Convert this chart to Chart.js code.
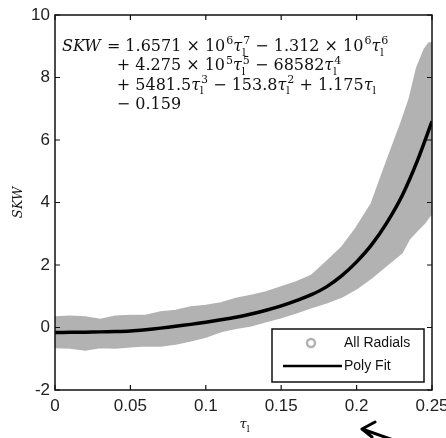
<!DOCTYPE html>
<html>
<head>
<meta charset="utf-8">
<script src="https://cdn.jsdelivr.net/npm/chart.js@4.4.0/dist/chart.umd.min.js"></script>
<style>
  html, body { margin: 0; padding: 0; background: #fff; }
  #wrap { width: 446px; height: 438px; }
</style>
</head>
<body>
<div id="wrap"><canvas id="chart" width="446" height="438"></canvas></div>
<script>
// scatter band of all radials (upper / lower edge of the grey cloud)
const bandR = [0, 0.01, 0.02, 0.03, 0.04, 0.05, 0.06, 0.07, 0.08, 0.09, 0.10, 0.11, 0.12, 0.13, 0.14, 0.15, 0.16, 0.17, 0.18, 0.19, 0.20, 0.21, 0.22, 0.23, 0.235, 0.24, 0.245, 0.248, 0.25, 0.2527];
const bandUpper = [0.33, 0.35, 0.33, 0.25, 0.35, 0.38, 0.38, 0.49, 0.54, 0.65, 0.70, 0.78, 0.92, 1.02, 1.13, 1.29, 1.45, 1.66, 2.1, 2.55, 3.2, 3.97, 5.3, 6.6, 7.3, 8.3, 8.9, 9.1, 9.1, 9.0];
const bandLower = [-0.63, -0.65, -0.71, -0.63, -0.65, -0.61, -0.58, -0.58, -0.52, -0.42, -0.3, -0.12, -0.02, 0.06, 0.2, 0.33, 0.48, 0.65, 0.8, 0.98, 1.25, 1.6, 2.0, 2.4, 2.85, 3.1, 3.35, 3.55, 3.65, 3.7];

// polynomial fit line
const fitR = [0, 0.01, 0.02, 0.03, 0.04, 0.05, 0.06, 0.07, 0.08, 0.09, 0.10, 0.11, 0.12, 0.13, 0.14, 0.15, 0.16, 0.17, 0.18, 0.19, 0.20, 0.21, 0.22, 0.23, 0.24, 0.25];
const fitValues = [-0.16, -0.155, -0.15, -0.14, -0.13, -0.11, -0.07, -0.02, 0.04, 0.10, 0.17, 0.25, 0.33, 0.43, 0.55, 0.69, 0.86, 1.05, 1.3, 1.65, 2.1, 2.65, 3.35, 4.2, 5.3, 6.6];

const xTicks = [0, 0.05, 0.1, 0.15, 0.2, 0.25];
const yTicks = [-2, 0, 2, 4, 6, 8, 10];
const legendLabels = ['All Radials', 'Poly Fit'];

// equation text, one array per line: [text, italic, sub, sup]
const equationLines = [
  [['SKW', true], [' = 1.6571 \u00d7 10', false, '', '6'], ['\u03c4', true, 'l', '7'], [' \u2212 1.312 \u00d7 10', false, '', '6'], ['\u03c4', true, 'l', '6']],
  [['+ 4.275 \u00d7 10', false, '', '5'], ['\u03c4', true, 'l', '5'], [' \u2212 68582', false], ['\u03c4', true, 'l', '4']],
  [['+ 5481.5', false], ['\u03c4', true, 'l', '3'], [' \u2212 153.8', false], ['\u03c4', true, 'l', '2'], [' + 1.175', false], ['\u03c4', true, 'l', '']],
  [['\u2212 0.159', false]]
];

const grey = '#b2b2b2';
const serif = '"DejaVu Serif", "Liberation Serif", serif';
const sans = '"Liberation Sans", Arial, sans-serif';

const drawSegments = (ctx, x, y, segs, size) => {
  for (let s of segs) {
    let [text, italic, sub, sup] = s;
    ctx.font = (italic ? 'italic ' : '') + size + 'px ' + serif;
    ctx.fillText(text, x, y);
    x += ctx.measureText(text).width;
    let w = 0;
    ctx.font = Math.round(size * 0.7) + 'px ' + serif;
    if (sub) {
      ctx.fillText(sub, x, y + size * 0.3);
      w = Math.max(w, ctx.measureText(sub).width);
    }
    if (sup) {
      ctx.fillText(sup, x + 1, y - size * 0.42);
      w = Math.max(w, ctx.measureText(sup).width + 1);
    }
    x += w;
  }
  return x;
};

const overlay = {
  id: 'overlay',
  afterDatasetsDraw(chart) {
    const ctx = chart.ctx;
    const a = chart.chartArea;
    const xs = chart.scales.x, ys = chart.scales.y;
    ctx.save();
    ctx.strokeStyle = '#111';
    ctx.lineWidth = 1.5;
    ctx.strokeRect(a.left, a.top, a.right - a.left, a.bottom - a.top);
    ctx.lineWidth = 1.2;
    ctx.beginPath();
    for (let v of xTicks) {
      let px = xs.getPixelForValue(v);
      ctx.moveTo(px, a.bottom); ctx.lineTo(px, a.bottom - 5);
      ctx.moveTo(px, a.top); ctx.lineTo(px, a.top + 5);
    }
    for (let v of yTicks) {
      let py = ys.getPixelForValue(v);
      ctx.moveTo(a.left, py); ctx.lineTo(a.left + 5, py);
      ctx.moveTo(a.right, py); ctx.lineTo(a.right - 5, py);
    }
    ctx.stroke();
    ctx.restore();
  },
  afterDraw(chart) {
    const ctx = chart.ctx;
    const a = chart.chartArea;
    const ds = chart.data.datasets;
    ctx.save();

    // legend box inside bottom right corner
    let lw = 152, lh = 53;
    let lx = a.right - 8 - lw, ly = a.bottom - 8 - lh;
    ctx.fillStyle = '#fff';
    ctx.fillRect(lx, ly, lw, lh);
    ctx.strokeStyle = '#111';
    ctx.lineWidth = 1.5;
    ctx.strokeRect(lx, ly, lw, lh);
    ctx.strokeStyle = ds[1].borderColor;
    ctx.lineWidth = 2.5;
    ctx.beginPath();
    ctx.arc(lx + 39, ly + 14, 4, 0, Math.PI * 2);
    ctx.stroke();
    ctx.strokeStyle = ds[0].borderColor;
    ctx.lineWidth = 2.5;
    ctx.beginPath();
    ctx.moveTo(lx + 11, ly + 37); ctx.lineTo(lx + 70, ly + 37);
    ctx.stroke();
    ctx.fillStyle = '#111';
    ctx.font = '14px ' + sans;
    ctx.textBaseline = 'middle';
    ctx.fillText(legendLabels[0], lx + 72, ly + 14);
    ctx.fillText(legendLabels[1], lx + 72, ly + 37);

    // equation
    ctx.textBaseline = 'alphabetic';
    ctx.fillStyle = '#111';
    let ex = a.left + 7;
    let eqX = 0;
    equationLines.forEach((line, i) => {
      let y = a.top + 36 + i * 19.3;
      if (i === 0) {
        let x = drawSegments(ctx, ex, y, line.slice(0, 1), 16);
        eqX = x + 1;
        drawSegments(ctx, eqX, y, line.slice(1), 16);
      } else {
        drawSegments(ctx, eqX + 15, y, line, 16);
      }
    });

    // axis titles
    ctx.save();
    ctx.translate(18, (a.top + a.bottom) / 2);
    ctx.rotate(-Math.PI / 2);
    ctx.textAlign = 'center';
    ctx.font = 'italic 13px ' + serif;
    ctx.fillText('SKW', 0, 4);
    ctx.restore();
    ctx.textAlign = 'left';
    drawSegments(ctx, (a.left + a.right) / 2 - 4, a.bottom + 38, [['\u03c4', true, 'l', '']], 13);

    // arrow annotation
    ctx.strokeStyle = '#000';
    ctx.lineWidth = 3;
    ctx.lineCap = 'round';
    ctx.beginPath();
    ctx.moveTo(399, 442); ctx.lineTo(362, 429);
    ctx.moveTo(362, 429); ctx.lineTo(375, 422);
    ctx.moveTo(362, 429); ctx.lineTo(372, 437);
    ctx.stroke();
    ctx.restore();
  }
};

const pts = (xs, ys) => xs.map((x, i) => ({ x: x, y: ys[i] }));

new Chart(document.getElementById('chart'), {
  type: 'line',
  data: {
    datasets: [
      { label: legendLabels[1], data: pts(fitR, fitValues), borderColor: '#000', borderWidth: 3.5, pointRadius: 0, fill: false, tension: 0.3, order: 0 },
      { label: legendLabels[0], data: pts(bandR, bandUpper), borderColor: grey, backgroundColor: grey, borderWidth: 2, pointRadius: 0, fill: '+1', clip: false, tension: 0, order: 1 },
      { label: 'lower', data: pts(bandR, bandLower), borderColor: grey, backgroundColor: grey, borderWidth: 2, pointRadius: 0, fill: false, clip: false, tension: 0, order: 2 }
    ]
  },
  options: {
    responsive: false,
    animation: false,
    devicePixelRatio: 1,
    layout: { padding: { top: 15, right: 14, left: 0, bottom: 0 } },
    plugins: { legend: { display: false }, tooltip: { enabled: false } },
    scales: {
      x: {
        type: 'linear', min: 0, max: 0.25,
        afterBuildTicks: (s) => { s.ticks = xTicks.map(v => ({ value: v })); },
        afterFit: (s) => { s.height = 48; s.paddingLeft = 0; s.paddingRight = 0; },
        grid: { display: false, drawTicks: false },
        border: { display: false },
        ticks: { color: '#222', padding: 6, maxRotation: 0, font: { family: sans, size: 17 },
          callback: (v) => String(+v.toFixed(2)) }
      },
      y: {
        type: 'linear', min: -2, max: 10,
        afterBuildTicks: (s) => { s.ticks = yTicks.map(v => ({ value: v })); },
        afterFit: (s) => { s.width = 55; s.paddingTop = 0; s.paddingBottom = 0; },
        grid: { display: false, drawTicks: false },
        border: { display: false },
        ticks: { color: '#222', padding: 5, font: { family: sans, size: 17 },
          callback: (v) => String(v) }
      }
    }
  },
  plugins: [overlay]
});
</script>
</body>
</html>
